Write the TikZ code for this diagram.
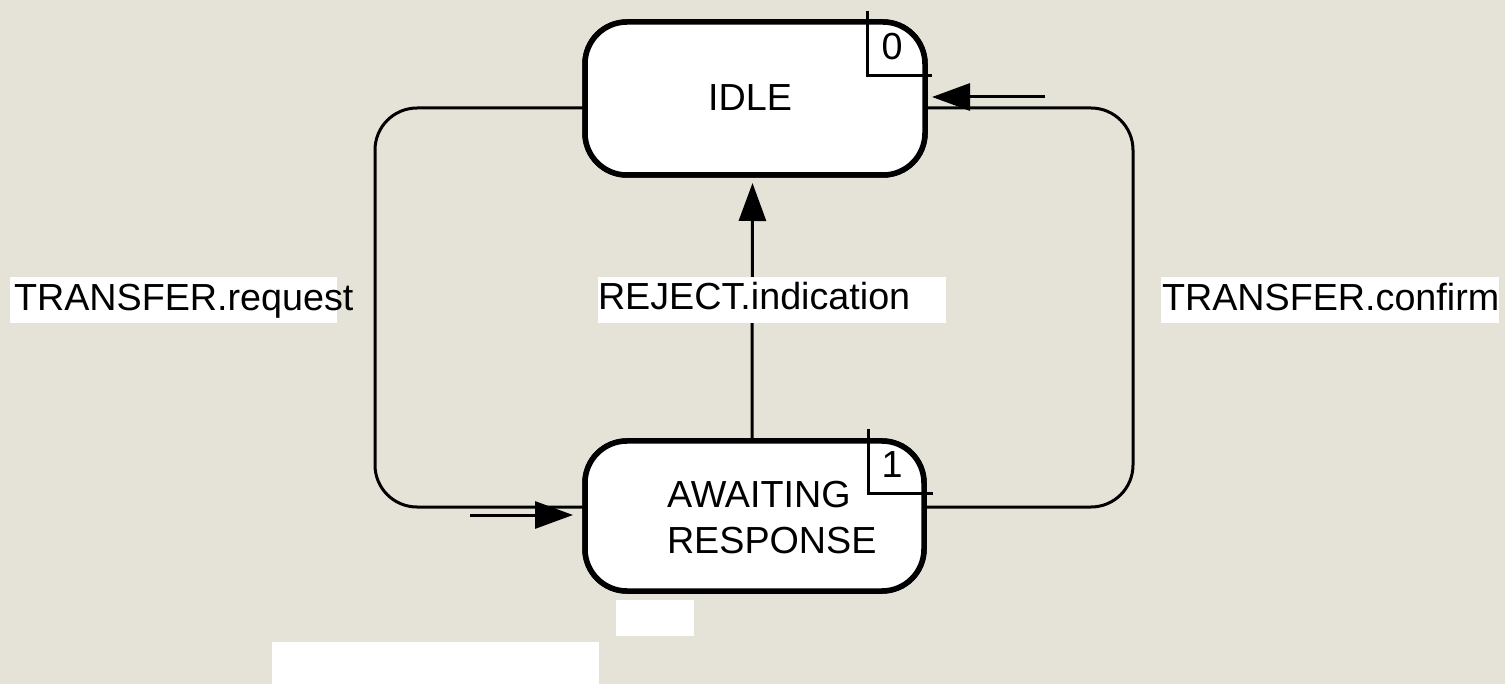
\documentclass[tikz,border=0pt]{standalone}
\usepackage{fontspec}
\setmainfont{Liberation Sans}
\usetikzlibrary{arrows.meta}
\definecolor{bgc}{RGB}{229,227,216}
\begin{document}
\begin{tikzpicture}[x=1pt,y=-1pt,
  statebox/.style={draw,line width=5.5pt,fill=white,rounded corners=42pt,inner sep=0pt,outer sep=0pt},
  conn/.style={line width=3pt,rounded corners=42pt},
  arr/.style={line width=3pt,-{Triangle[length=38pt,width=27pt]}},
  cornermark/.style={line width=3pt},
  txt/.style={font=\fontsize{37.7}{46}\selectfont,inner sep=0pt,outer sep=0pt},
  whitebox/.style={fill=white,draw=none}]
\fill[bgc] (0,0) rectangle (1505,684);
\useasboundingbox (0,0) rectangle (1505,684);

% state boxes (positions)
\node[statebox,minimum width=340pt,minimum height=153pt] (idle) at (755,98.5) {};
\node[statebox,minimum width=339pt,minimum height=150pt] (await) at (754.5,516) {};

% connector corner coordinates
\coordinate (lt) at (375,108);
\coordinate (lb) at (375,507);
\coordinate (rt) at (1133,108);
\coordinate (rb) at (1133,507);
\coordinate (inA) at (470,515);
\coordinate (inAtip) at (573,515);
\coordinate (inI) at (1045,97);
\coordinate (inItip) at (932,97);

% connectors
\draw[conn] (idle.west |- lt) -- (lt) -- (lb) -- (await.west |- lb);
\draw[conn] (idle.east |- rt) -- (rt) -- (rb) -- (await.east |- rb);
\draw[arr] ([xshift=-2.5pt]await.north) -- ([xshift=-2.5pt,yshift=-8pt]idle.south);
\draw[arr] (inA) -- (inAtip);
\draw[arr] (inI) -- (inItip);

% redraw boxes over connectors
\node[statebox,minimum width=340pt,minimum height=153pt] at (idle) {};
\node[statebox,minimum width=339pt,minimum height=150pt] at (await) {};

% white label boxes
\fill[whitebox] (10,277) rectangle (337,323);
\fill[whitebox] (598,277) rectangle (946,323);
\fill[whitebox] (1161,277) rectangle (1499,323);
\fill[whitebox] (616,600) rectangle (694,636);
\fill[whitebox] (272,642) rectangle (599,684);

% corner marks
\draw[cornermark] (867,11) -- (867,76) -- (932,76);
\draw[cornermark] (868,429) -- (868,493) -- (933,493);

% texts
\node[txt] (tidle) at (750,97.5) {IDLE};
\node[txt,anchor=west,align=left] (tawait) at (667,517.5) {AWAITING\\RESPONSE};
\node[txt] (t0) at (892,47) {0};
\node[txt] (t1) at (892,465) {1};
\node[txt,anchor=base west] (lreq) at (14,311) {TRANSFER.request};
\node[txt,anchor=base west] (lrej) at (598,310) {REJECT.indication};
\node[txt,anchor=base west] (lconf) at (1162,311) {TRANSFER.confirm};
\end{tikzpicture}
\end{document}
